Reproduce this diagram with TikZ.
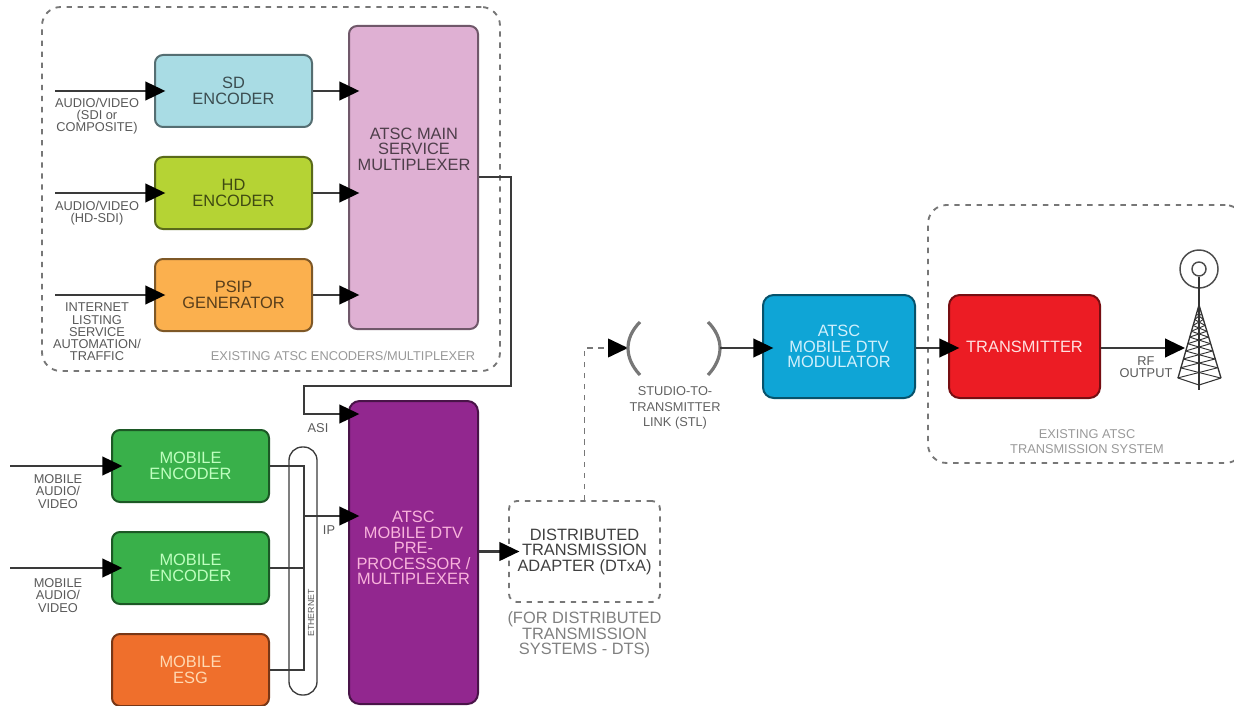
\documentclass[tikz,border=0pt]{standalone}
\usepackage{fontspec}
\setmainfont{Liberation Sans}
\usetikzlibrary{arrows.meta}
\definecolor{sdblue}{HTML}{A9DCE4}
\definecolor{hdgreen}{HTML}{B5D334}
\definecolor{psiporange}{HTML}{FBB04E}
\definecolor{mainpink}{HTML}{DFB0D3}
\definecolor{mobilegreen}{HTML}{39B04A}
\definecolor{esgorange}{HTML}{EF6F2C}
\definecolor{muxpurple}{HTML}{92278F}
\definecolor{modblue}{HTML}{0FA5D6}
\definecolor{txred}{HTML}{EC1C24}
\definecolor{wirecolor}{HTML}{3A3A3A}
\definecolor{dashcolor}{HTML}{777777}
\begin{document}
\begin{tikzpicture}[
    x=0.75pt, y=-0.75pt,
    block/.style={
        fill=#1,
        draw=#1!50!black,
        line width=1.5pt,
        rounded corners=6pt,
        inner sep=0pt,
        align=center,
        font=\fontsize{12.3}{11.6}\selectfont
    },
    size/.style 2 args={
        minimum width=#1*0.75pt,
        minimum height=#2*0.75pt
    },
    wire/.style={draw=wirecolor, line width=1.6pt},
    flow/.style={wire, -{Triangle[length=15pt,width=14pt,color=black]}},
    into/.style={flow, shorten >=-8.5pt},
    dashbox/.style={
        draw=dashcolor,
        line width=1.4pt,
        dash pattern=on 4pt off 4.3pt,
        rounded corners=14pt
    },
    small/.style={
        inner sep=0pt,
        align=center,
        text=#1,
        font=\fontsize{9.6}{9.2}\selectfont
    },
    small/.default={black!65},
    caption/.style={small=black!40, font=\fontsize{9.6}{11.6}\selectfont}
]
\clip (0,0) rectangle (1234,706);
\useasboundingbox (0,0) rectangle (1234,706);

\node [dashbox, size={458}{364}, inner sep=0pt] (existingmux) at (271,189) {};
\node [dashbox, size={316}{258}, inner sep=0pt] (existingtx) at (1086,334) {};

\node [block=sdblue, size={157}{72}, text=sdblue!35!black] (sd) at (233.5,91) {SD\\ENCODER};
\node [block=hdgreen, size={157}{72}, text=hdgreen!35!black] (hd) at (233.5,193) {HD\\ENCODER};
\node [block=psiporange, size={157}{72}, text=psiporange!35!black] (psip) at (233.5,295) {PSIP\\GENERATOR};
\node [block=mainpink, size={129}{303}] (mainmux) at (413.5,177.5) {};
\node [inner sep=0pt, align=center, text=mainpink!35!black, font=\fontsize{12.3}{11.6}\selectfont] (mainlabel) at (414,149) {ATSC MAIN\\SERVICE\\MULTIPLEXER};

\node [block=mobilegreen, size={157}{72}, text=green!25!white] (enca) at (190.5,466) {MOBILE\\ENCODER};
\node [block=mobilegreen, size={157}{72}, text=green!25!white] (encb) at (190.5,568) {MOBILE\\ENCODER};
\node [block=esgorange, size={157}{72}, text=orange!30!white] (esg) at (190.5,670) {MOBILE\\ESG};
\node [block=muxpurple, size={129}{303}, rounded corners=8pt] (mobilemux) at (413.5,552.5) {};
\node [inner sep=0pt, align=center, text=magenta!30!white, font=\fontsize{12.3}{11.6}\selectfont] (muxlabel) at (413.5,548) {ATSC\\MOBILE DTV\\PRE-\\PROCESSOR /\\MULTIPLEXER};

\node [dashbox, size={151}{101}, align=center, text=black!75, inner sep=0pt, rounded corners=6pt, font=\fontsize{12.3}{11.6}\selectfont] (dtxa) at (584.5,551.5) {DISTRIBUTED\\TRANSMISSION\\ADAPTER (DTxA)};
\node [block=modblue, size={152}{103}, rounded corners=8pt, text=cyan!18!white] (modulator) at (839,346.5) {ATSC\\MOBILE DTV\\MODULATOR};
\node [block=txred, size={151}{103}, rounded corners=8pt, text=red!12!white] (transmitter) at (1024.5,346.5) {TRANSMITTER};

\node [draw=wirecolor, line width=1pt, size={28}{248}, rounded corners=10pt, inner sep=0pt] (ethernet) at (303,571) {};

% inputs
\coordinate (sdin) at (55,91);
\coordinate (hdin) at (55,193);
\coordinate (psipin) at (55,295);
\coordinate (encain) at (10,466);
\coordinate (encbin) at (10,568);
\draw [into] (sdin) -- (sd);
\draw [into] (hdin) -- (hd);
\draw [into] (psipin) -- (psip);
\draw [into] (encain) -- (enca);
\draw [into] (encbin) -- (encb);
\draw [into] (sd) -- (sd -| mainmux.west);
\draw [into] (hd) -- (hd -| mainmux.west);
\draw [into] (psip) -- (psip -| mainmux.west);

% main mux to mobile mux
\coordinate (asia) at (511,177);
\coordinate (asib) at (511,386);
\coordinate (asic) at (304,386);
\coordinate (asid) at (304,414);
\draw [into] (asia -| mainmux.east) -- (asia) -- (asib) -- (asic) -- (asid) -- (asid -| mobilemux.west);

% ethernet bus
\coordinate (busa) at (304,466);
\coordinate (busb) at (304,568);
\coordinate (busc) at (304,670);
\coordinate (busip) at (304,516);
\draw [wire] (enca) -- (busa) -- (busc) -- (esg);
\draw [wire] (encb) -- (busb);
\draw [into] (busip) -- (busip -| mobilemux.west);

\draw [into] (mobilemux.east |- dtxa) -- (dtxa.west);

% studio link
\coordinate (stlcorner) at (584.5,348);
\coordinate (stlleft) at (628,348);
\coordinate (stlright) at (720,348);
\draw [flow, draw=dashcolor, line width=1.4pt, dash pattern=on 4pt off 4.3pt] (dtxa.north) -- (stlcorner) -- (stlleft);
\draw [draw=dashcolor, line width=2.4pt] (640,322) .. controls (624,338) and (624,358) .. (640,375);
\draw [draw=dashcolor, line width=2.4pt] (708,322) .. controls (724,338) and (724,358) .. (708,375);
\draw [into] (stlright) -- (stlright -| modulator.west);
\draw [into] (modulator.east |- stlright) -- (transmitter.west |- stlright);

% tower
\coordinate (towerin) at (1185,348);
\draw [flow] (transmitter.east |- towerin) -- (towerin);
\node [circle, draw=black!70, line width=1.1pt, minimum size=28.5pt, inner sep=0pt] (ringouter) at (1199,269) {};
\node [circle, draw=black!70, line width=1.1pt, minimum size=10.5pt, inner sep=0pt] (ringinner) at (1199,269) {};
\coordinate (towerfoot) at (1199,390);
\coordinate (towerapex) at (1199,305);
\coordinate (legleft) at (1178,378);
\coordinate (legright) at (1221,378);
\draw [draw=black!80, line width=1.2pt] (ringinner) -- (towerfoot);
\draw [draw=black!80, line width=1pt] (legleft) -- (towerapex) -- (legright);
\draw [draw=black!80, line width=0.8pt] (legleft) -- (1199,385) -- (legright);
\foreach \t/\u in {1/.86, .86/.74, .74/.63, .63/.53, .53/.44, .44/.36, .36/.28, .28/.2, .2/.12}{
    \draw [draw=black!80, line width=0.7pt] (1199-21.5*\t,305+73*\t) -- (1199+21.5*\u,305+73*\u);
    \draw [draw=black!80, line width=0.7pt] (1199+21.5*\t,305+73*\t) -- (1199-21.5*\u,305+73*\u);
}

% labels
\node [small] (sdtext) at (97,116) {AUDIO/VIDEO\\(SDI or\\COMPOSITE)};
\node [small] (hdtext) at (97,213) {AUDIO/VIDEO\\(HD-SDI)};
\node [small] (psiptext) at (97,332) {INTERNET\\LISTING\\SERVICE\\AUTOMATION/\\TRAFFIC};
\node [small] (encatext) at (58,491.5) {MOBILE\\AUDIO/\\VIDEO};
\node [small] (encbtext) at (58,595.5) {MOBILE\\AUDIO/\\VIDEO};
\node [small] (asitext) at (318,428) {ASI};
\node [small] (iptext) at (329,530) {IP};
\node [small, font=\fontsize{6.6}{7}\selectfont, rotate=90] (ethtext) at (311,613) {ETHERNET};
\node [small] (rftext) at (1146,367.5) {RF\\OUTPUT};
\node [caption, text=black!62] (stltext) at (675,408) {STUDIO-TO-\\TRANSMITTER\\LINK (STL)};
\node [caption] (existmuxtext) at (343,356) {EXISTING ATSC ENCODERS/MULTIPLEXER};
\node [caption] (existtxtext) at (1087,441.5) {EXISTING ATSC\\TRANSMISSION SYSTEM};
\node [inner sep=0pt, align=center, text=black!50, font=\fontsize{12.3}{11.6}\selectfont] (dtstext) at (584.5,635) {(FOR DISTRIBUTED\\TRANSMISSION\\SYSTEMS - DTS)};
\end{tikzpicture}
\end{document}
